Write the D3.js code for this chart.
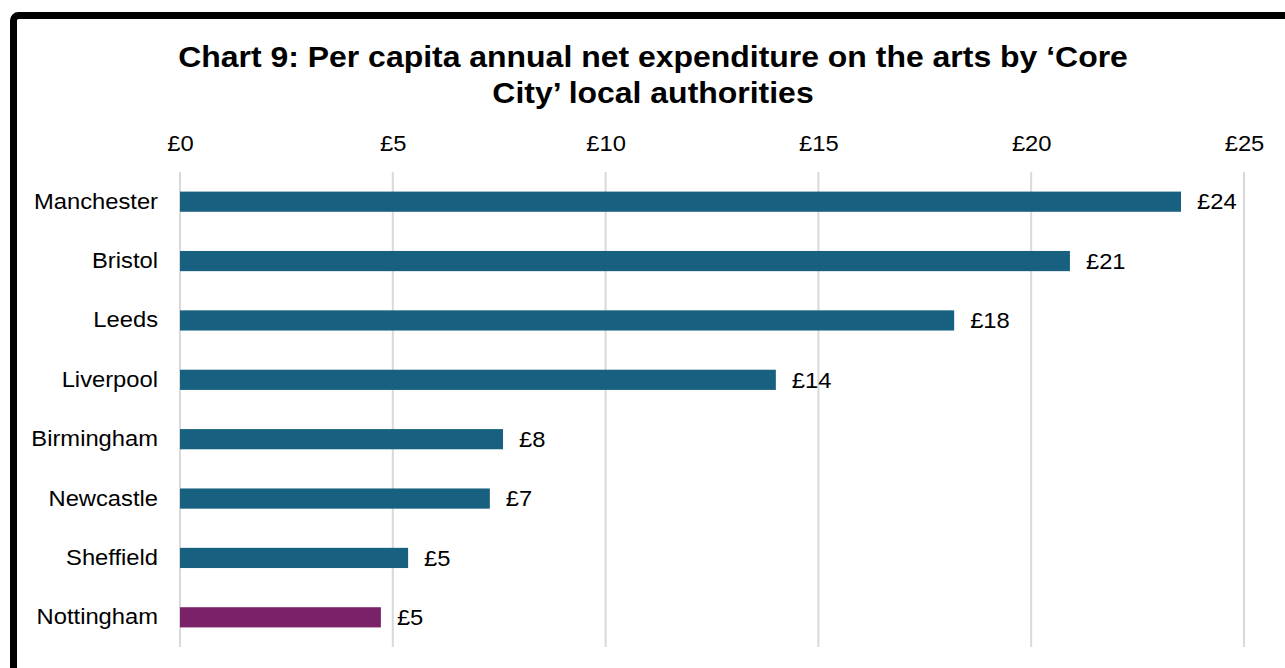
<!DOCTYPE html>
<html><head><meta charset="utf-8">
<script src="https://cdn.jsdelivr.net/npm/d3@7"></script>
<style>body{margin:0;background:#fff;} svg{display:block;font-family:"Liberation Sans",Arial,sans-serif;}</style>
</head><body>
<script>
const categories = ["Manchester","Bristol","Leeds","Liverpool","Birmingham","Newcastle","Sheffield","Nottingham"];
const values = [23.52, 20.91, 18.19, 14.0, 7.59, 7.28, 5.36, 4.72];
const valueLabels = ["£24","£21","£18","£14","£8","£7","£5","£5"];
const barColors = ["#17607f","#17607f","#17607f","#17607f","#17607f","#17607f","#17607f","#7a2268"];
const tickValues = [0,5,10,15,20,25];
const titleLines = ["Chart 9: Per capita annual net expenditure on the arts by ‘Core","City’ local authorities"];

const W = 1285, H = 668;
const SX = 1.08;
const svg = d3.select("body").append("svg").attr("width", W).attr("height", H);

svg.append("rect").attr("x",13.5).attr("y",15.5).attr("width",1400).attr("height",800)
  .attr("rx",5).attr("fill","#fff").attr("stroke","#000").attr("stroke-width",7);

svg.selectAll("text.title").data(titleLines).join("text").attr("class","title")
  .attr("transform",(d,i)=>`translate(653,${67+i*36}) scale(1.065,1)`).attr("text-anchor","middle")
  .attr("font-size",30).attr("font-weight","bold").attr("fill","#000").text(d=>d);

const x = d3.scaleLinear().domain([0,25]).range([180,1244]);
const y = d3.scaleBand().domain(categories).range([172,647]).paddingInner(0.66).paddingOuter(0.33);

const grid = svg.append("g");
grid.selectAll("line").data(tickValues).join("line")
  .attr("x1",d=>x(d)).attr("x2",d=>x(d)).attr("y1",172).attr("y2",647)
  .attr("stroke","#d9d9d9").attr("stroke-width",2);

const axis = svg.append("g").attr("transform","translate(0,151)")
  .call(d3.axisTop(x).tickValues(tickValues).tickFormat(d=>"£"+d).tickSize(0).tickPadding(0));
axis.select(".domain").remove();
axis.selectAll("text").attr("font-size",22).attr("fill","#000").attr("font-family","Liberation Sans, Arial, sans-serif")
  .attr("transform",`scale(${SX},1)`).attr("x",0);

const yAxis = svg.append("g").attr("transform","translate(158,0)")
  .call(d3.axisLeft(y).tickSize(0).tickPadding(0));
yAxis.select(".domain").remove();
yAxis.selectAll("text").attr("font-size",22).attr("fill","#000").attr("font-family","Liberation Sans, Arial, sans-serif")
  .attr("transform",`scale(${SX},1)`).attr("x",0);

svg.selectAll("rect.bar").data(categories).join("rect").attr("class","bar")
  .attr("x",x(0)).attr("y",d=>y(d)).attr("height",y.bandwidth())
  .attr("width",(d,i)=>x(values[i])-x(0)).attr("fill",(d,i)=>barColors[i]);

svg.selectAll("text.val").data(categories).join("text").attr("class","val")
  .attr("transform",(d,i)=>`translate(${x(values[i])+16},${y(d)+y.bandwidth()/2}) scale(${SX},1)`).attr("dy","0.35em")
  .attr("font-size",22).attr("fill","#000").text((d,i)=>valueLabels[i]);
</script>
</body></html>
